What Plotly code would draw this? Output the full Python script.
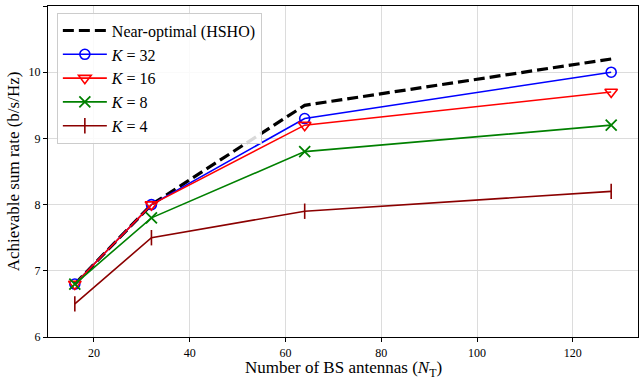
import plotly.graph_objects as go

antennas = [16, 32, 64, 128]
near_optimal = [6.8, 8.0, 9.5, 10.2]
k32 = [6.8, 8.0, 9.3, 10.0]
k16 = [6.8, 8.0, 9.2, 9.7]
k8 = [6.8, 7.8, 8.8, 9.2]
k4 = [6.5, 7.5, 7.9, 8.2]

x_ticks = [20, 40, 60, 80, 100, 120]
y_ticks = [6, 7, 8, 9, 10, 11]

FONT = "Liberation Serif"

fig = go.Figure()
fig.add_trace(go.Scatter(x=antennas, y=near_optimal, mode="lines", name="Near-optimal (HSHO)",
                         line=dict(color="black", width=3.2, dash="11px,5px")))
fig.add_trace(go.Scatter(x=antennas, y=k32, mode="lines+markers", name="<i>K</i> = 32",
                         line=dict(color="#0000ff", width=1.6),
                         marker=dict(symbol="circle-open", size=10, color="#0000ff", line=dict(width=1.6))))
fig.add_trace(go.Scatter(x=antennas, y=k16, mode="lines+markers", name="<i>K</i> = 16",
                         line=dict(color="#ff0000", width=1.6),
                         marker=dict(symbol="triangle-down-open", size=11, color="#ff0000", line=dict(width=1.6))))
fig.add_trace(go.Scatter(x=antennas, y=k8, mode="lines+markers", name="<i>K</i> = 8",
                         line=dict(color="#008000", width=1.6),
                         marker=dict(symbol="x-thin-open", size=11, color="#008000", line=dict(width=1.8))))
fig.add_trace(go.Scatter(x=antennas, y=k4, mode="lines+markers", name="<i>K</i> = 4",
                         line=dict(color="#8b0000", width=1.6),
                         marker=dict(symbol="line-ns-open", size=11, color="#8b0000", line=dict(width=1.6))))

axis_common = dict(showline=True, linecolor="black", linewidth=1.2, mirror=True,
                   ticks="outside", ticklen=4, tickcolor="black", automargin=False,
                   showgrid=True, gridcolor="#dcdcdc", gridwidth=1, zeroline=False,
                   tickfont=dict(family=FONT, size=12, color="black"))

fig.update_xaxes(range=[10.4, 133.6], tickvals=x_ticks, **axis_common)
fig.update_yaxes(range=[6, 11], tickvals=y_ticks, **axis_common)

fig.add_annotation(text="Number of BS antennas (<i>N</i><sub>T</sub>)", xref="paper", yref="paper",
                   x=0.5, y=-0.097, xanchor="center", yanchor="middle", showarrow=False,
                   font=dict(family=FONT, size=17, color="black"))
fig.add_annotation(text="Achievable sum rate (b/s/Hz)", xref="paper", yref="paper",
                   x=-0.058, y=0.5, xanchor="center", yanchor="middle", textangle=-90, showarrow=False,
                   font=dict(family=FONT, size=17, color="black"))

fig.update_layout(
    width=640, height=382,
    margin=dict(l=48, r=2, t=6, b=45),
    plot_bgcolor="white", paper_bgcolor="white",
    font=dict(family=FONT, color="black"),
    legend=dict(x=0.015, y=0.98, xanchor="left", yanchor="top",
                bgcolor="rgba(255,255,255,0.85)", bordercolor="#cccccc", borderwidth=1,
                font=dict(family=FONT, size=16, color="black"),
                tracegroupgap=0, itemwidth=44),
    showlegend=True,
)

fig.write_html("out.html", config={"displayModeBar": False},
               post_script="document.body.style.margin='0';document.body.style.padding='0';document.body.style.overflow='hidden';")
